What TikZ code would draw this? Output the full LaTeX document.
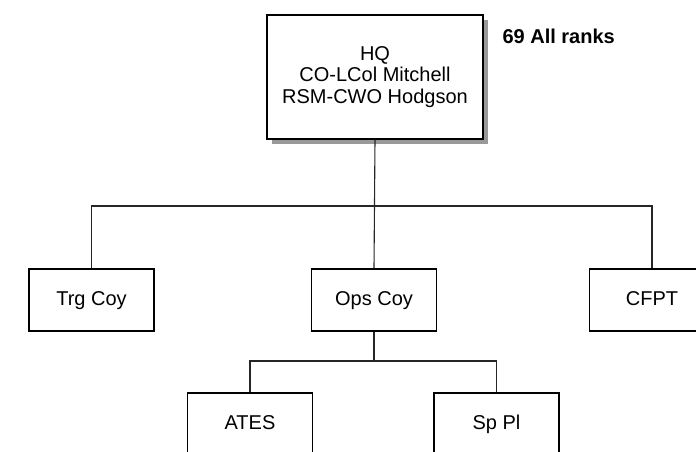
\documentclass[tikz,border=0pt]{standalone}
\usepackage{fontspec}
\setmainfont{Liberation Sans}
\usetikzlibrary{positioning, calc, shadows}
\tikzset{
  box/.style={draw=black, fill=white, line width=1.3pt, align=center, inner sep=0pt,
              font=\fontsize{20}{21.5}\selectfont},
  unit/.style={box, minimum width=125pt, minimum height=62pt,
               text height=14.5pt, text depth=4.5pt},
  link/.style={line width=1.1pt, draw=black!85},
}

\begin{document}
\begin{tikzpicture}[x=1pt, y=1pt]
  \clip (0,0) rectangle (696,-451);
  \useasboundingbox (0,0) rectangle (696,-451);
  % headquarters
  \node[box, minimum width=216pt, minimum height=124pt,
        drop shadow={shadow xshift=5pt, shadow yshift=-5pt, fill=black!40, opacity=1}] (hq) at (375,-77)
    {HQ\\CO-LCol Mitchell\\RSM-CWO Hodgson};
  \node[font=\fontsize{20}{22}\selectfont\bfseries, anchor=west] (strength) at (499,-36) {69 All ranks};
  % companies
  \node[unit] (trg) at (91.5,-300) {Trg Coy};
  \node[unit] (ops) at (374,-300) {Ops Coy};
  \node[unit] (cfpt) at (652,-300) {CFPT};
  % platoons
  \node[unit] (ates) at (250,-424) {ATES};
  \node[unit] (sppl) at (496.5,-424) {Sp Pl};
  \coordinate (bus) at (374,-206);
  \coordinate (subbus) at (374,-361);
  \draw[link] (hq.south) -- (ops.north);
  \draw[link] (trg.north) |- (bus) -| (cfpt.north);
  \draw[link] (ops.south) -- (subbus);
  \draw[link] (ates.north) |- (subbus) -| (sppl.north);
\end{tikzpicture}
\end{document}
